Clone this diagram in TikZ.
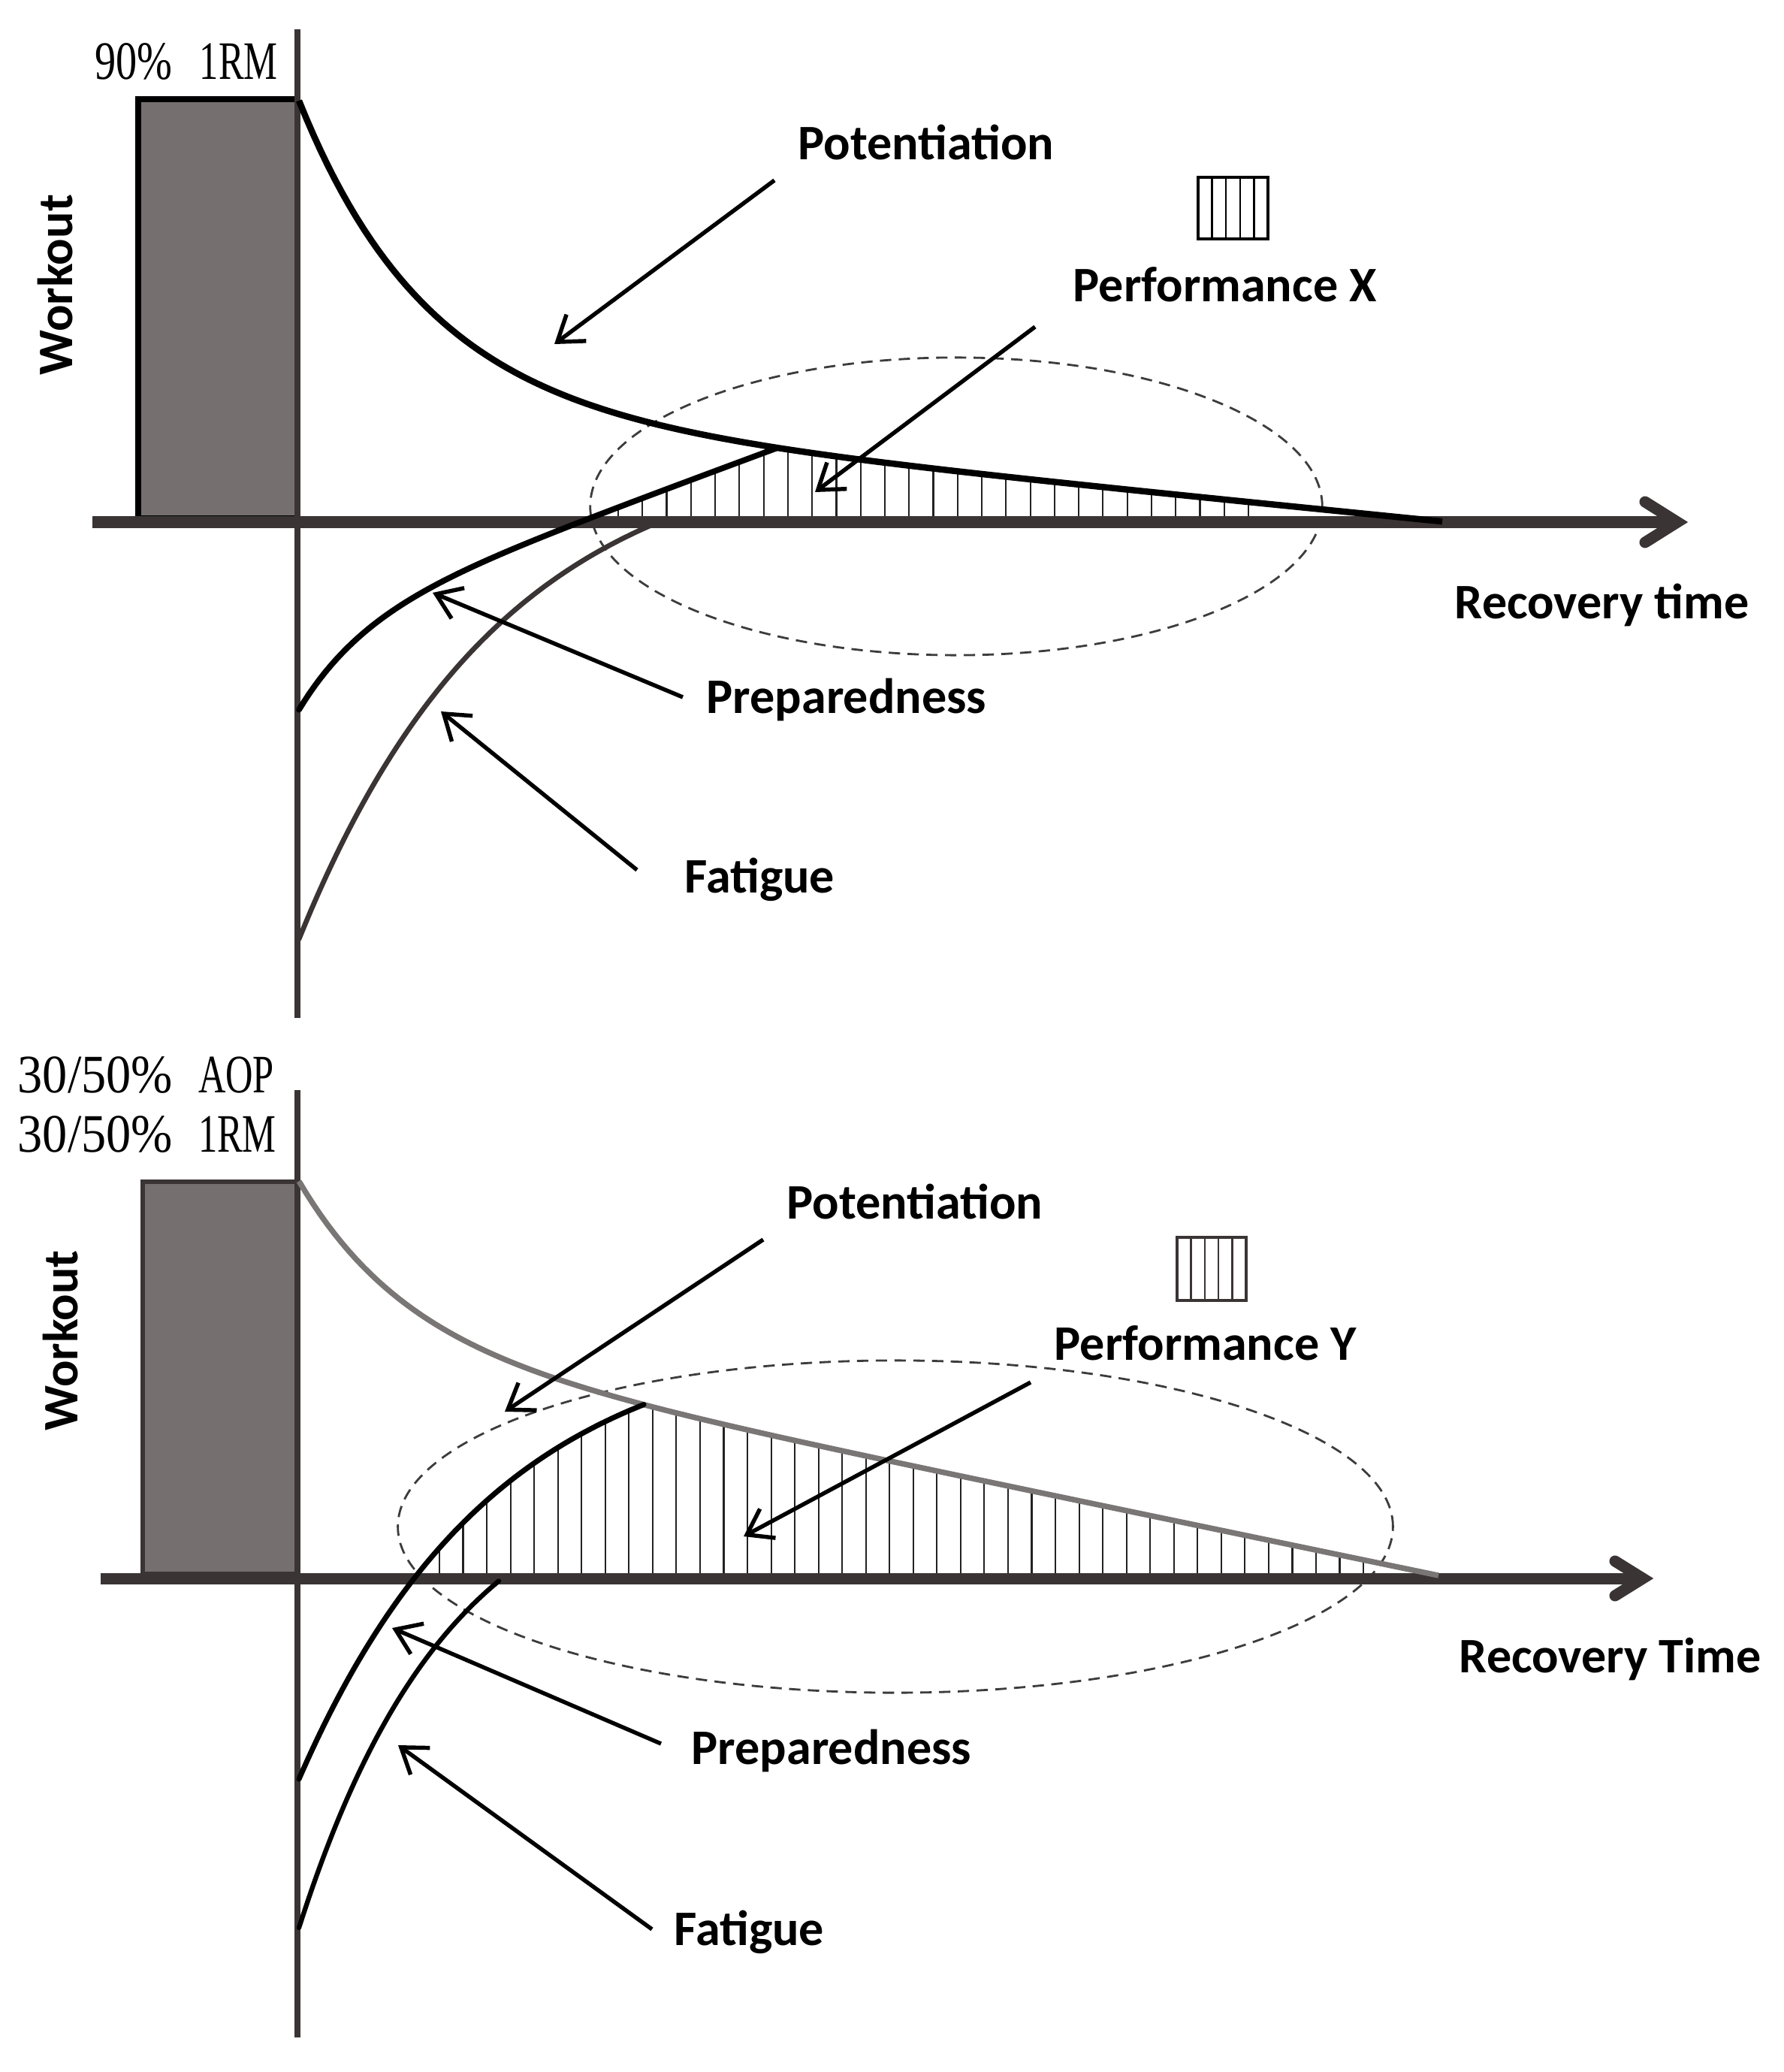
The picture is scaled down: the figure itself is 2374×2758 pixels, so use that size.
\documentclass[tikz,border=0pt]{standalone}
\usepackage{fontspec}
\setmainfont{Carlito}
\newfontfamily\pctfont{Liberation Serif}
\usetikzlibrary{arrows.meta}
\definecolor{axisgray}{HTML}{3A3434}
\definecolor{barfill}{HTML}{756F6F}
\definecolor{potgray}{HTML}{7A7676}
\definecolor{ellgray}{HTML}{3C3C3C}
\definecolor{hatchgray}{HTML}{222222}
% curve functions (pixel coordinates, y downwards)
\def\potA(#1){695 - 408*exp(-((#1)-398)/170) - 0.1*(1928-(#1))}
\def\prepA(#1){831.7 - 0.37*((#1)-398) + 113*exp(-((#1)-398)/88)}
\def\fatA(#1){695 + 668.7*(exp(-((#1)-398)/270) - 0.170)}
\def\potB(#1){2101 - 210*exp(-((#1)-398)/140) - 0.2075*(1934-(#1))}
\def\prepB(#1){1765 + 603*exp(-((#1)-398)/262)}
\def\fatB(#1){2101 + 627.5*(exp(-((#1)-398)/200) - 0.259)}
\begin{document}
\begin{tikzpicture}[x=0.01cm,y=-0.01cm,
  lab/.style={font=\fontsize{18.8}{22}\selectfont\bfseries, inner sep=0pt, anchor=base west},
  pct/.style={font=\pctfont\fontsize{20.5}{24}\selectfont, inner sep=0pt, anchor=base west},
  haxis/.style={draw=axisgray, line width=4.27pt},
  vaxis/.style={draw=axisgray, line width=2pt},
  chevron/.style={draw=axisgray, line width=4.27pt, line cap=round, line join=miter},
  ann/.style={draw=black, line width=1.55pt, -{Straight Barb[length=9pt,width=12.5pt]}},
  ell/.style={draw=ellgray, line width=0.8pt, dash pattern=on 4.3pt off 2.8pt},
  hatchline/.style={draw=hatchgray, line width=0.6pt},
  legbox/.style={draw=black, line width=1.3pt},
  legline/.style={draw=black, line width=0.7pt},
]
\useasboundingbox (0,0) rectangle (2374,2758);
\fill[white] (0,0) rectangle (2374,2758);

% ================= TOP PANEL =================
\draw[ell] (1273,674) ellipse [x radius=4.87cm, y radius=1.98cm];

\draw[fill=barfill, draw=black, line width=2pt] (184,132) rectangle (396,690);

\begin{scope}
  \clip plot[domain=398:1035, samples=80] (\x, {\prepA(\x)})
     -- plot[domain=1035:1920, samples=80] (\x, {\potA(\x)})
     -- (1920,1400) -- (398,1400) -- cycle;
  \foreach \i in {0,...,26} \draw[hatchline] ({823+32.27*\i},695) -- ++(0,-450);
\end{scope}

\coordinate (axAl) at (123,695);
\coordinate (axAr) at (2225,695);
\coordinate (vAt) at (396,39);
\coordinate (vAb) at (396,1355);
\draw[haxis] (axAl) -- (axAr);
\draw[vaxis] (vAt) -- (vAb);
\coordinate (chA1) at (2190,668);
\coordinate (chA2) at (2233,695);
\coordinate (chA3) at (2190,722);
\draw[chevron] (chA1) -- (chA2) -- (chA3);

\draw[draw=axisgray, line width=1.9pt, line cap=round] plot[domain=398:876, samples=90] (\x, {\fatA(\x)});
\draw[draw=black, line width=2.2pt, line cap=round] plot[domain=398:1035, samples=90] (\x, {\prepA(\x)});
\draw[draw=black, line width=2.4pt, line cap=butt] plot[domain=398:1920, samples=160] (\x, {\potA(\x)});

\draw[legbox] (1595,236) rectangle (1688,318);
\foreach \k in {1,...,4} \draw[legline] ({1595+18.6*\k},236) -- ({1595+18.6*\k},318);

\node[pct] (rmA) at (126,106) {\scalebox{0.78}[1]{90\%}\hspace{0.36cm}\scalebox{0.7}[1]{1RM}};
\node[lab, rotate=90] (workA) at (96,500) {Workout};
\node[lab] (potA) at (1062,213) {Potentiation};
\node[lab] (perfX) at (1428,402) {Performance X};
\node[lab] (recA) at (1936,823) {Recovery time};
\node[lab] (prepA) at (940,949) {Preparedness};
\node[lab] (fatA) at (911,1188) {Fatigue};

\coordinate (potAs) at (1031,240);  \coordinate (potAe) at (738,458);
\coordinate (perfXs) at (1378,435); \coordinate (perfXe) at (1085,655);
\coordinate (prepAs) at (909,928);  \coordinate (prepAe) at (576,789);
\coordinate (fatAs) at (848,1158);  \coordinate (fatAe) at (587,947);
\draw[ann] (potAs) -- (potAe);
\draw[ann] (perfXs) -- (perfXe);
\draw[ann] (prepAs) -- (prepAe);
\draw[ann] (fatAs) -- (fatAe);

% ================= BOTTOM PANEL =================
\draw[ell] (1192,2032) ellipse [x radius=6.62cm, y radius=2.21cm];

\draw[fill=barfill, draw=axisgray, line width=1.6pt] (190,1573) rectangle (396,2095);

\begin{scope}
  \clip plot[domain=398:857, samples=80] (\x, {\prepB(\x)})
     -- plot[domain=857:1915, samples=80] (\x, {\potB(\x)})
     -- (1915,2500) -- (398,2500) -- cycle;
  \foreach \i in {0,...,39} \draw[hatchline] ({585+31.54*\i},2101) -- ++(0,-450);
\end{scope}

\coordinate (axBl) at (134,2101);
\coordinate (axBr) at (2180,2101);
\coordinate (vBt) at (396,1451);
\coordinate (vBb) at (396,2712);
\draw[haxis] (axBl) -- (axBr);
\draw[vaxis] (vBt) -- (vBb);
\coordinate (chB1) at (2150,2078);
\coordinate (chB2) at (2187,2101);
\coordinate (chB3) at (2150,2124);
\draw[chevron] (chB1) -- (chB2) -- (chB3);

\draw[draw=potgray, line width=2.1pt, line cap=butt] plot[domain=398:1915, samples=160] (\x, {\potB(\x)});
\draw[draw=black, line width=1.8pt, line cap=round] plot[domain=398:664, samples=70] (\x, {\fatB(\x)});
\draw[draw=black, line width=2pt, line cap=round] plot[domain=398:857, samples=80] (\x, {\prepB(\x)});

\draw[draw=axisgray, line width=1.2pt] (1567,1647) rectangle (1659,1731);
\foreach \k in {1,...,4} \draw[draw=axisgray, line width=0.7pt] ({1567+18.4*\k},1647) -- ({1567+18.4*\k},1731);

\node[pct] (aop) at (23,1454) {\scalebox{0.92}[1]{30/50\%}\hspace{0.34cm}\scalebox{0.7}[1]{AOP}};
\node[pct] (rmB) at (23,1533) {\scalebox{0.92}[1]{30/50\%}\hspace{0.34cm}\scalebox{0.7}[1]{1RM}};
\node[lab, rotate=90] (workB) at (103,1905) {Workout};
\node[lab] (potB) at (1047,1622) {Potentiation};
\node[lab] (perfY) at (1403,1810) {Performance Y};
\node[lab] (recB) at (1942,2226) {Recovery Time};
\node[lab] (prepB) at (920,2348) {Preparedness};
\node[lab] (fatB) at (897,2589) {Fatigue};

\coordinate (potBs) at (1016,1650);  \coordinate (potBe) at (672,1879);
\coordinate (perfYs) at (1372,1840); \coordinate (perfYe) at (990,2045);
\coordinate (prepBs) at (880,2321);  \coordinate (prepBe) at (522,2167);
\coordinate (fatBs) at (868,2568);   \coordinate (fatBe) at (530,2323);
\draw[ann] (potBs) -- (potBe);
\draw[ann] (perfYs) -- (perfYe);
\draw[ann] (prepBs) -- (prepBe);
\draw[ann] (fatBs) -- (fatBe);
\end{tikzpicture}
\end{document}
